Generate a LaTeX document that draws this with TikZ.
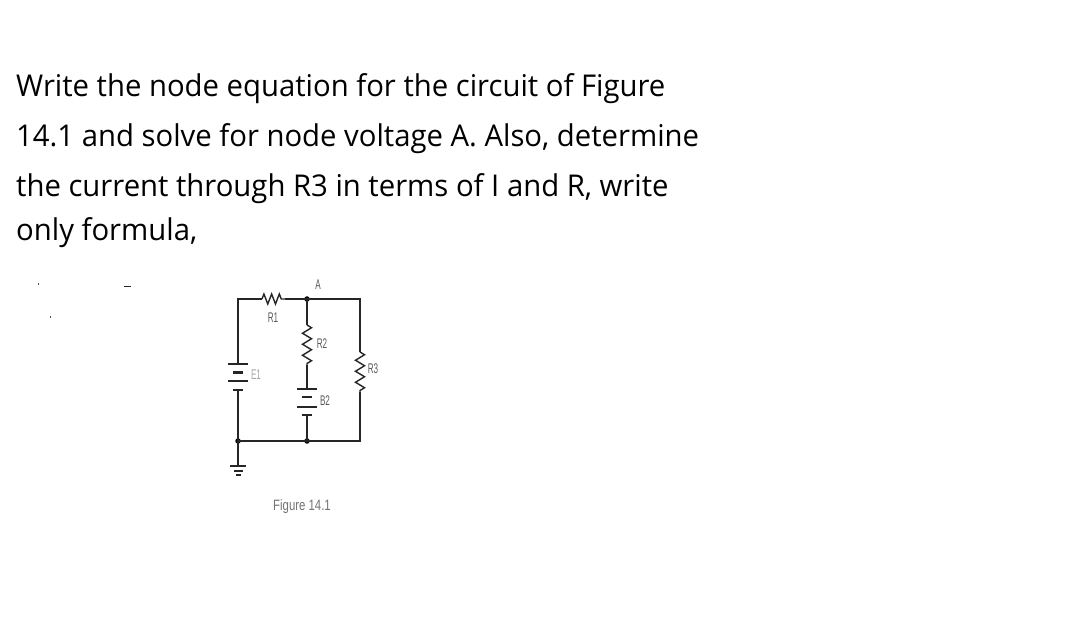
\documentclass[tikz,border=0pt]{standalone}
\usepackage{fontspec}
\setmainfont{Open Sans}
\setsansfont{Liberation Sans}
\usetikzlibrary{decorations.pathmorphing}
\tikzset{%
  textline/.style = {anchor=base west, inner sep=0pt, xscale=.976, font=\fontsize{30}{30}\selectfont, text=black},%
  lbl/.style      = {inner sep=0pt, xscale=.58, font=\sffamily\fontsize{14}{14}\selectfont, text=black!65},%
  wire/.style     = {line width=1.4pt, black!85},%
  rzig/.style     = {wire, decorate, decoration={zigzag,segment length=11pt,amplitude=4.5pt}},%
  rzigs/.style    = {wire, decorate, decoration={zigzag,segment length=7.7pt,amplitude=5pt}},%
  longplate/.style  = {fill=black!85, inner sep=0pt, minimum width=20pt, minimum height=1.4pt},%
  shortplate/.style = {fill=black!85, inner sep=0pt, minimum width=10pt, minimum height=2.4pt},%
  dot/.style      = {circle, fill=black, inner sep=0pt, minimum size=5.5pt}%
}
\begin{document}
\begin{tikzpicture}[x=1pt,y=-1pt]
	\useasboundingbox (0,0) rectangle (1080,639);
	\node [textline] (line1) at (16,97) {Write the node equation for the circuit of Figure};
	\node [textline] (line2) at (16,147) {14.1 and solve for node voltage A. Also, determine};
	\node [textline] (line3) at (16,197) {the current through R3 in terms of I and R, write};
	\node [textline] (line4) at (16,241) {only formula,};
	% specks left of the figure
	\fill [black!70] (37.5,283.5) rectangle (39,285);
	\fill [black!70] (49.5,316.5) rectangle (51,318);
	\fill [black!85] (124,286.5) rectangle (131,287.5);
	% corners and junctions
	\coordinate (tl) at (238,299);
	\coordinate (tr) at (360,299);
	\coordinate (br) at (360,441);
	\coordinate (r1a) at (262,299);
	\coordinate (r1b) at (285,299);
	\coordinate (r2a) at (307,325);
	\coordinate (r2b) at (307,365);
	\coordinate (r3a) at (360,352);
	\coordinate (r3b) at (360,392);
	\node [dot] (nodeA) at (307,299) {};
	\node [dot] (nodeB) at (307,441) {};
	\node [dot] (nodeG) at (238,441) {};
	% battery E1
	\node [longplate] (e1p1) at (238,364) {};
	\node [shortplate] (e1n1) at (238,372.5) {};
	\node [longplate] (e1p2) at (238,381) {};
	\node [shortplate] (e1n2) at (238,390) {};
	% battery B2
	\node [longplate] (b2p1) at (307,389) {};
	\node [shortplate] (b2n1) at (307,397) {};
	\node [longplate] (b2p2) at (307,407) {};
	\node [shortplate] (b2n2) at (307,415) {};
	% ground
	\node [longplate,minimum width=16pt] (gnd1) at (238,466) {};
	\node [longplate,minimum width=9pt] (gnd2) at (238,471) {};
	\node [longplate,minimum width=5pt,minimum height=2pt] (gnd3) at (238,475) {};
	% wires
	\draw [wire] (e1p1.center) -- (tl) -- (r1a);
	\draw [rzigs] (r1a) -- (r1b);
	\draw [wire] (r1b) -- (nodeA.center) -- (tr) -- (r3a);
	\draw [rzig] (r3a) -- (r3b);
	\draw [wire] (r3b) -- (br) -- (nodeB.center) -- (nodeG.center);
	\draw [wire] (nodeA.center) -- (r2a);
	\draw [rzig] (r2a) -- (r2b);
	\draw [wire] (r2b) -- (b2p1.center);
	\draw [wire] (b2n2.center) -- (nodeB.center);
	\draw [wire] (e1n2.center) -- (nodeG.center) -- (gnd1.center);
	% labels
	\node [lbl] (labA) at (318,285) {A};
	\node [lbl] (labR1) at (273,318) {R1};
	\node [lbl] (labR2) at (322,344) {R2};
	\node [lbl,text=black!35] (labE1) at (256,375) {E1};
	\node [lbl] (labR3) at (373,369) {R3};
	\node [lbl] (labB2) at (325,401) {B2};
	\node [inner sep=0pt,xscale=.76,font=\sffamily\fontsize{15}{15}\selectfont,text=black!55] (caption) at (302,507) {Figure 14.1};
\end{tikzpicture}
\end{document}
